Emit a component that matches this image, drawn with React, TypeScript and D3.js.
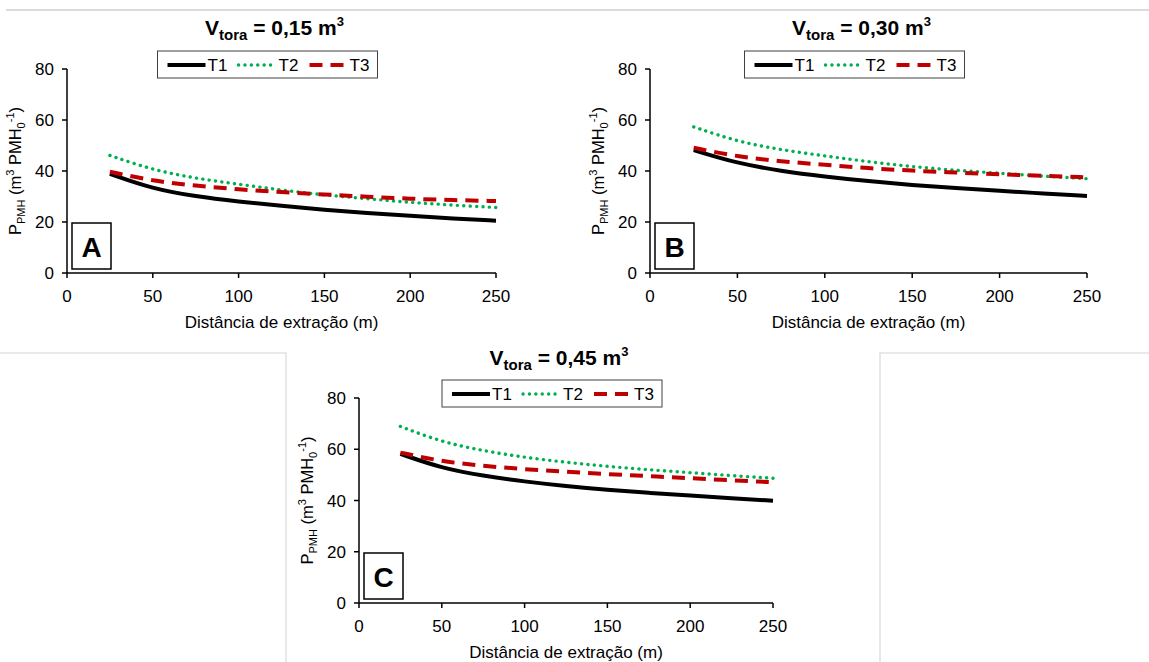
import React from 'react';
import * as d3 from 'd3';

const distances = [25, 50, 75, 100, 125, 150, 175, 200, 225, 250];
const xTicks = [0, 50, 100, 150, 200, 250];
const yTicks = [0, 20, 40, 60, 80];
const seriesNames = ['T1', 'T2', 'T3'];

// P_PMH, one array per treatment and log volume
const a_T1 = [38.9, 33.0, 30.0, 28.0, 26.3, 24.8, 23.5, 22.4, 21.4, 20.5];
const a_T2 = [46.1, 40.4, 37.1, 34.8, 32.5, 30.6, 29.1, 27.7, 26.6, 25.7];
const a_T3 = [39.7, 36.1, 34.2, 32.8, 31.7, 30.8, 29.9, 29.1, 28.6, 28.2];
const b_T1 = [48.2, 43.0, 40.0, 37.8, 36.0, 34.5, 33.3, 32.2, 31.2, 30.2];
const b_T2 = [57.3, 51.5, 48.3, 45.9, 43.6, 41.7, 40.3, 39.1, 38.0, 37.0];
const b_T3 = [49.1, 45.6, 43.8, 42.4, 41.1, 40.1, 39.4, 38.7, 38.1, 37.5];
const c_T1 = [58.2, 52.6, 49.6, 47.4, 45.6, 44.1, 43.0, 41.9, 40.9, 39.9];
const c_T2 = [68.9, 62.8, 59.4, 56.8, 54.9, 53.3, 52.0, 50.9, 49.7, 48.7];
const c_T3 = [58.7, 55.2, 53.5, 52.2, 51.2, 50.3, 49.5, 48.7, 47.9, 47.1];

const volumes = ['0,15', '0,30', '0,45'];
const letters = ['A', 'B', 'C'];

const styles = [
  { color: '#000000', width: 4, dash: undefined, cap: 'butt' },
  { color: '#00b050', width: 3.4, dash: '0.1,6.3', cap: 'round' },
  { color: '#c00000', width: 4, dash: '13,8', cap: 'butt' },
];

const font = '"Liberation Sans", Arial, sans-serif';

type PanelProps = {
  left: number; right: number; top: number; bottom: number;
  title: string; letter: string; series: number[][]; titleY: number;
};

const Panel = ({ left, right, top, bottom, title, letter, series, titleY }: PanelProps) => {
  const x = d3.scaleLinear().domain([0, 250]).range([left, right]);
  const y = d3.scaleLinear().domain([0, 80]).range([bottom, top]);
  const line = d3.line<number>()
    .x((_, i) => x(distances[i]))
    .y((d) => y(d))
    .curve(d3.curveBasis);
  const cx = (left + right) / 2;
  const legW = 220;
  const legX = cx - 14 - legW / 2;
  const legY = top - 18;

  return (
    <g fontFamily={font}>
      <text x={cx - 7} y={titleY} textAnchor="middle" fontSize={21} fontWeight="bold" fill="#000">
        V<tspan fontSize={15} dy={5}>tora</tspan>
        <tspan dy={-5}> = {title} m</tspan>
        <tspan fontSize={13} dy={-9}>3</tspan>
      </text>

      <rect x={legX} y={legY} width={legW} height={27} fill="#fff" stroke="#404040" strokeWidth={1} />
      {seriesNames.map((n, i) => (
        <g key={n}>
          <line x1={legX + 10 + i * 71} x2={legX + 48 + i * 71} y1={legY + 14} y2={legY + 14}
            stroke={styles[i].color} strokeWidth={styles[i].width}
            strokeDasharray={styles[i].dash} strokeLinecap={styles[i].cap as any} />
          <text x={legX + 50 + i * 71} y={legY + 20} fontSize={17} fill="#000">{n}</text>
        </g>
      ))}

      <line x1={left} x2={left} y1={top} y2={bottom} stroke="#000" strokeWidth={1.5} />
      <line x1={left} x2={right} y1={bottom} y2={bottom} stroke="#000" strokeWidth={1.5} />
      {yTicks.map((t) => (
        <g key={t}>
          <line x1={left - 5} x2={left} y1={y(t)} y2={y(t)} stroke="#000" strokeWidth={1.5} />
          <text x={left - 13} y={y(t) + 6} textAnchor="end" fontSize={17} fill="#000">{t}</text>
        </g>
      ))}
      {xTicks.map((t) => (
        <g key={t}>
          <line x1={x(t)} x2={x(t)} y1={bottom} y2={bottom + 5} stroke="#000" strokeWidth={1.5} />
          <text x={x(t)} y={bottom + 29} textAnchor="middle" fontSize={17} fill="#000">{t}</text>
        </g>
      ))}
      <text x={cx} y={bottom + 55} textAnchor="middle" fontSize={17} fill="#000">Distância de extração (m)</text>
      <text transform={`translate(${left - 46},${(top + bottom) / 2}) rotate(-90)`} textAnchor="middle" fontSize={16.5} fill="#000">
        P<tspan fontSize={11} dy={4}>PMH</tspan>
        <tspan dy={-4}> (m</tspan>
        <tspan fontSize={11} dy={-7}>3</tspan>
        <tspan dy={7}> PMH</tspan>
        <tspan fontSize={11} dy={4}>0</tspan>
        <tspan fontSize={11} dy={-11}>-1</tspan>
        <tspan dy={7}>)</tspan>
      </text>

      {series.map((s, i) => (
        <path key={i} d={line(s) || ''} fill="none" stroke={styles[i].color}
          strokeWidth={styles[i].width} strokeDasharray={styles[i].dash}
          strokeLinecap={styles[i].cap as any} strokeLinejoin="round" />
      ))}

      <rect x={left + 5} y={bottom - 50} width={39} height={46} fill="#fff" stroke="#000" strokeWidth={1.5} />
      <text x={left + 24.5} y={bottom - 16} textAnchor="middle" fontSize={28} fontWeight="bold" fill="#000">{letter}</text>
    </g>
  );
};

export default function App() {
  return (
    <svg width={1149} height={662} style={{ position: 'absolute', left: 0, top: 0, background: '#fff' }}>
      <rect width={1149} height={662} fill="#fff" />
      <line x1={6} x2={1149} y1={10} y2={10} stroke="#cfcfcf" strokeWidth={1.5} />
      <polyline points="0,353 286,353 286,662" fill="none" stroke="#e2e2e2" strokeWidth={1.5} />
      <polyline points="1149,353 880,353 880,662" fill="none" stroke="#e2e2e2" strokeWidth={1.5} />
      <Panel left={67} right={496} top={69} bottom={273} title={volumes[0]} letter={letters[0]} series={[a_T1, a_T2, a_T3]} titleY={35} />
      <Panel left={650} right={1087} top={69} bottom={273} title={volumes[1]} letter={letters[1]} series={[b_T1, b_T2, b_T3]} titleY={35} />
      <Panel left={359} right={773} top={398} bottom={603} title={volumes[2]} letter={letters[2]} series={[c_T1, c_T2, c_T3]} titleY={365} />
    </svg>
  );
}
